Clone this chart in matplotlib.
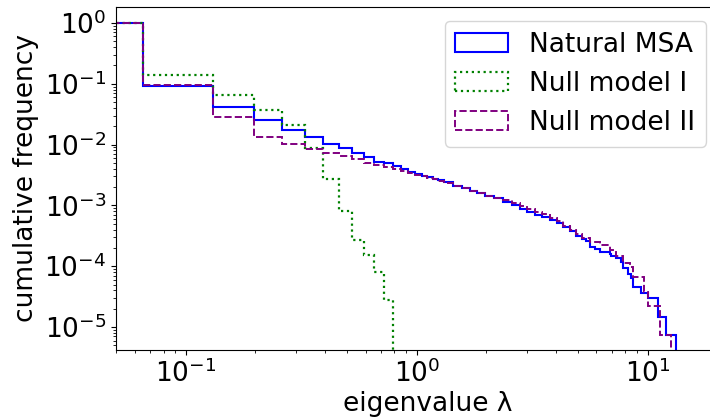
import matplotlib
matplotlib.use("Agg")
import matplotlib.pyplot as plt

# bin edges (eigenvalue) and cumulative frequency
natural_edges = [0, 0.0655, 0.131, 0.1965, 0.262, 0.3275, 0.393, 0.4585, 0.524, 0.5895,
                 0.655, 0.7205, 0.786, 0.8515, 0.917, 0.9825, 1.048, 1.11, 1.18, 1.24,
                 1.31, 1.44, 1.57, 1.70, 1.83, 1.97, 2.15, 2.36, 2.58, 2.79,
                 2.99, 3.24, 3.48, 3.77, 4.04, 4.30, 4.60, 4.91, 5.18, 5.43,
                 5.61, 5.90, 6.20, 6.85, 6.96, 7.32, 7.69, 7.82, 8.22, 8.50,
                 8.64, 9.39, 10.03, 11.08, 11.97, 13.31]
natural_freq = [1.0, 0.092, 0.042, 0.0254, 0.0174, 0.0132, 0.0102, 0.0087, 0.0072, 0.0062,
                0.0052, 0.0049, 0.0044, 0.0040, 0.0035, 0.0033, 0.0031, 0.0029, 0.0027, 0.0026,
                0.0024, 0.0021, 0.0019, 0.0017, 0.0016, 0.00145, 0.0013, 0.00115, 0.00102, 0.00088,
                0.00077, 0.00070, 0.00064, 0.00058, 0.00051, 0.000447, 0.00038, 0.00031, 0.00028, 0.00026,
                0.00021, 0.00019, 0.000173, 0.000160, 0.000150, 0.000135, 0.000119, 9.2e-5, 7.5e-5, 6.3e-5,
                4.6e-5, 3.67e-5, 2.95e-5, 1.47e-5, 7.4e-6]

null1_edges = [0, 0.0655, 0.131, 0.1965, 0.262, 0.3275, 0.393, 0.4585, 0.524, 0.5895,
               0.655, 0.7205, 0.786]
null1_freq = [1.0, 0.14, 0.0654, 0.037, 0.0207, 0.0088, 0.00272, 0.00081, 0.00027, 0.000153,
              8.1e-5, 2.8e-5]

null2_edges = [0, 0.0655, 0.131, 0.1965, 0.262, 0.3275, 0.393, 0.4585, 0.524, 0.5895,
               0.655, 0.7205, 0.786, 0.8515, 0.917, 0.9825, 1.048, 1.11, 1.18, 1.24,
               1.31, 1.44, 1.57, 1.70, 1.83, 1.97, 2.15, 2.36, 2.58, 2.79,
               2.99, 3.24, 3.48, 3.77, 4.04, 4.30, 4.60, 4.91, 5.18, 5.61,
               6.19, 6.85, 7.32, 7.82, 8.36, 8.61, 9.61, 10.03, 11.27, 12.58]
null2_freq = [1.0, 0.096, 0.0288, 0.0135, 0.0101, 0.0084, 0.0072, 0.0065, 0.0058, 0.0050,
              0.0046, 0.0042, 0.0039, 0.0037, 0.0034, 0.0032, 0.0030, 0.0028, 0.0027, 0.0025,
              0.0023, 0.0021, 0.0019, 0.0017, 0.00158, 0.00145, 0.00133, 0.00121, 0.00108, 0.00097,
              0.00087, 0.00079, 0.00071, 0.00063, 0.00055, 0.00046, 0.00039, 0.00034, 0.00029, 0.00025,
              0.000223, 0.000185, 0.000147, 0.000111, 9.8e-5, 6.7e-5, 3.8e-5, 2.2e-5, 7.4e-6]

plt.rcParams['font.size'] = 19

fig = plt.figure(figsize=(7.1, 4.17), dpi=100)
# the axes run past the right edge of the figure, as in the (cropped) original
ax = fig.add_axes([116/710, 67/417, 624/710, 343/417])
ax.set_xscale('log')
ax.set_yscale('log')
ax.spines['right'].set_visible(False)

ax.hist(natural_edges[:-1], bins=natural_edges, weights=natural_freq, histtype='step',
        color='blue', lw=1.5, label='Natural MSA')
ax.hist(null1_edges[:-1], bins=null1_edges, weights=null1_freq, histtype='step',
        color='green', lw=1.6, linestyle=':', label='Null model I')
ax.hist(null2_edges[:-1], bins=null2_edges, weights=null2_freq, histtype='step',
        color='purple', lw=1.4, linestyle='--', label='Null model II')

ax.set_xlim(0.0498, 25.1)
ax.set_ylim(4.19e-6, 1.83)
ax.set_xlabel('eigenvalue λ', labelpad=2)
ax.set_ylabel('cumulative frequency')
ax.legend(loc='upper right', bbox_to_anchor=(706/710, 1 - 21/417),
          bbox_transform=fig.transFigure, borderaxespad=0)

fig.savefig('out.png', dpi=100)
